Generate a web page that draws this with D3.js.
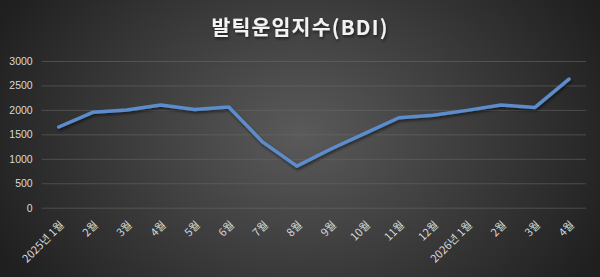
<!DOCTYPE html>
<html>
<head>
<meta charset="utf-8">
<script src="https://cdn.jsdelivr.net/npm/d3@7"></script>
<style>
html,body{margin:0;padding:0;background:#2a2a2a;}
svg{display:block;}
</style>
</head>
<body>
<svg id="chart" width="600" height="277"></svg>
<script>
const title = "발틱운임지수(BDI)";
const categories = ["2025년 1월","2월","3월","4월","5월","6월","7월","8월","9월","10월","11월","12월","2026년 1월","2월","3월","4월"];
const bdiValues = [1650,1950,2000,2100,2010,2060,1340,850,1200,1520,1840,1890,1990,2100,2050,2630];
const yTicks = [0,500,1000,1500,2000,2500,3000];

const W = 600, H = 277;
const margin = {left: 41.7, right: 14, top: 61, bottom: 69.3};
const svg = d3.select("#chart");
const defs = svg.append("defs");

const grad = defs.append("radialGradient")
  .attr("id","bg").attr("gradientUnits","userSpaceOnUse")
  .attr("cx",300).attr("cy",135).attr("r",340)
  .attr("gradientTransform","translate(300,135) scale(1,0.75) translate(-300,-135)");
grad.append("stop").attr("offset","0%").attr("stop-color","#5a5a5a");
grad.append("stop").attr("offset","100%").attr("stop-color","#1f1f1f");

const shadow = defs.append("filter").attr("id","shadow").attr("x","-10%").attr("y","-20%").attr("width","120%").attr("height","140%");
shadow.append("feDropShadow").attr("dx",1).attr("dy",2).attr("stdDeviation",1.5).attr("flood-color","#000").attr("flood-opacity",0.55);

svg.append("rect").attr("width",W).attr("height",H).attr("fill","url(#bg)");

const x = d3.scaleBand().domain(d3.range(categories.length))
  .range([margin.left, W - margin.right]);
const y = d3.scaleLinear().domain([0,3000]).range([H - margin.bottom, margin.top]);

// gridlines via axis
const gy = svg.append("g").attr("transform",`translate(${margin.left},0)`)
  .call(d3.axisLeft(y).tickValues(yTicks).tickSize(-(W - margin.right - margin.left)).tickPadding(9).tickFormat(d3.format("d")));
gy.select(".domain").remove();
gy.selectAll(".tick line").attr("stroke","#6a6a6a").attr("stroke-opacity",0.55).attr("stroke-width",1);
gy.selectAll(".tick text").attr("fill","#d9d9d9").attr("font-family","'Liberation Sans', Arial, sans-serif").attr("font-size","10.5px");

// x axis labels
const gx = svg.append("g").attr("transform",`translate(0,${H - margin.bottom})`)
  .call(d3.axisBottom(x).tickSize(0).tickFormat(i => categories[i]));
gx.select(".domain").remove();
gx.selectAll(".tick text")
  .attr("fill","#d9d9d9")
  .attr("font-family","'Noto Sans CJK KR', sans-serif")
  .attr("font-size","11px")
  .attr("text-anchor","end")
  .attr("dy","0")
  .attr("y",0)
  .attr("transform","translate(6,18) rotate(-45)");

// line
const line = d3.line().x((d,i) => x(i) + x.bandwidth()/2).y(d => y(d));
svg.append("path").datum(bdiValues)
  .attr("d", line)
  .attr("fill","none")
  .attr("stroke","#5b8ccb")
  .attr("stroke-width",3.5)
  .attr("stroke-linejoin","round")
  .attr("stroke-linecap","round")
  .attr("filter","url(#shadow)");

svg.append("text").text(title)
  .attr("x",300).attr("y",35)
  .attr("text-anchor","middle")
  .attr("fill","#f2f2f2")
  .attr("font-family","'Noto Sans CJK KR', sans-serif")
  .attr("font-weight","bold")
  .attr("font-size","20.5px")
  .attr("letter-spacing","1.2px")
  .attr("filter","url(#shadow)");
</script>
</body>
</html>
